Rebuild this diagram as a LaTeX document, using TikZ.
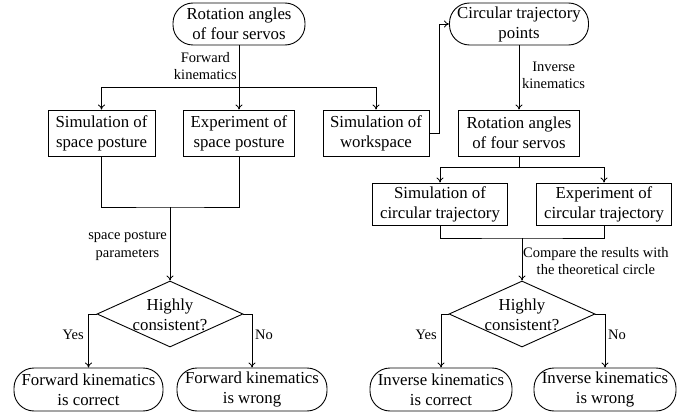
\documentclass[tikz,border=0pt]{standalone}
\usepackage{fontspec}
\setmainfont{Liberation Serif}
\usetikzlibrary{arrows.meta,shapes.geometric}
\begin{document}
\begin{tikzpicture}[x=1pt,y=-1pt,
  every node/.style={font=\fontsize{16.8}{20}\selectfont, inner sep=0pt, align=center},
  boxnode/.style={draw, line width=0.9pt, minimum height=46pt},
  term/.style={draw, line width=0.9pt, rounded corners=20pt, minimum height=42pt},
  dec/.style={draw, diamond, line width=0.9pt, minimum width=146pt, minimum height=66pt},
  lbl/.style={font=\fontsize{14.5}{17.5}\selectfont},
  arr/.style={-{To[length=5pt,width=7pt]}, line width=0.8pt},
  ln/.style={line width=0.8pt}]
\useasboundingbox (0,0) rectangle (697,412);

% left part
\node[term, minimum width=132pt] (t1) at (239,24) {Rotation angles\\of four servos};
\node[boxnode, minimum width=107pt] (b1) at (101.5,133) {Simulation of\\space posture};
\node[boxnode, minimum width=111pt] (b2) at (239,133) {Experiment of\\space posture};
\node[boxnode, minimum width=106pt] (b3) at (376,133) {Simulation of\\workspace};
\node[dec] (d1) at (170,314) {};
\node (d1t) at (170,315) {Highly\\consistent?};
\node[term, minimum width=149pt, minimum height=43pt] (e1) at (88.5,389.5) {Forward kinematics\\is correct};
\node[term, minimum width=150pt, minimum height=43pt] (e2) at (252,389.5) {Forward kinematics\\is wrong};

% right part
\node[term, minimum width=139pt] (t2) at (519,24) {Circular trajectory\\points};
\node[boxnode, minimum width=121pt] (r1) at (519,133) {Rotation angles\\of four servos};
\node[boxnode, minimum width=135pt, minimum height=42pt] (c1) at (440,204) {Simulation of\\circular trajectory};
\node[boxnode, minimum width=135pt, minimum height=42pt] (c2) at (604,204) {Experiment of\\circular trajectory};
\node[dec] (d2) at (522,314) {};
\node (d2t) at (522,315) {Highly\\consistent?};
\node[term, minimum width=142pt, minimum height=43pt] (e3) at (441,389.5) {Inverse kinematics\\is correct};
\node[term, minimum width=142pt, minimum height=43pt] (e4) at (605,389.5) {Inverse kinematics\\is wrong};

% labels
\node[lbl, anchor=east] (l1) at (237,66) {Forward\\kinematics};
\node[lbl, anchor=west] (l2) at (522,75.5) {Inverse\\kinematics};
\node[lbl, anchor=east] (l3) at (167,246) {space posture\\parameters};
\node[lbl, anchor=west] (l4) at (523,261) {Compare the results with\\the theoretical circle};
\node[lbl, anchor=east] (y1) at (84,335) {Yes};
\node[lbl, anchor=west] (n1) at (255,335) {No};
\node[lbl, anchor=east] (y2) at (437,335) {Yes};
\node[lbl, anchor=west] (n2) at (608,335) {No};

% connectors left
\coordinate (j1) at (239,87);
\draw[ln] (t1.south) -- (j1);
\draw[arr] (j1) -| (b1.north);
\draw[arr] (j1) -- (b2.north);
\draw[arr] (j1) -| (b3.north);
\draw[arr] (b3.east) -- ++(10,0) |- (t2.west);
\coordinate (j4) at (170,207);
\draw[ln] (b1.south) |- (j4) -| (b2.south);
\draw[arr] (j4) -- (d1.north);
\draw[arr] (d1.west) -| (e1.north);
\draw[arr] (d1.east) -| (e2.north);

% connectors right
\draw[arr] (t2.south) -- (r1.north);
\coordinate (j2) at (519,167);
\draw[ln] (r1.south) -- (j2);
\draw[arr] (j2) -| (c1.north);
\draw[arr] (j2) -| (c2.north);
\coordinate (j3) at (522,238);
\draw[ln] (c1.south) |- (j3) -| (c2.south);
\draw[arr] (j3) -- (d2.north);
\draw[arr] (d2.west) -| (e3.north);
\draw[arr] (d2.east) -| (e4.north);
\end{tikzpicture}
\end{document}
